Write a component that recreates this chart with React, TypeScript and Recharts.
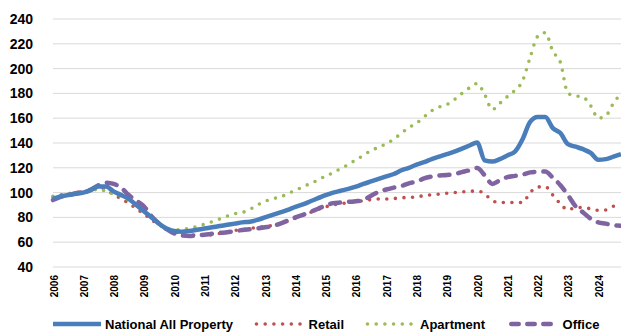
import React from 'react';
import { LineChart, Line, XAxis, YAxis, CartesianGrid, Legend } from 'recharts';

const years = [2006, 2007, 2008, 2009, 2010, 2011, 2012, 2013, 2014, 2015, 2016, 2017, 2018, 2019, 2020, 2021, 2022, 2023, 2024];
const quarters = ['Q1', 'Q2', 'Q3', 'Q4'];
const categories = years.flatMap((y) => quarters.map((q) => `${y}${q}`));

const yTicks = [40, 60, 80, 100, 120, 140, 160, 180, 200, 220, 240];

const national = [
  95, 97, 98, 99, 100, 102, 105, 105, 101, 98, 95, 90, 85, 80, 75, 71,
  69, 68.5, 69, 70, 71, 72, 73, 74, 75, 76, 76.5, 78, 80, 82, 84, 86,
  88.5, 90.5, 93, 95.5, 98, 100, 101.5, 103, 104.8, 107, 109, 111, 113, 115, 118, 120,
  122.5, 124.5, 127, 129, 131, 133, 135.5, 138, 140.5, 126, 125, 127, 130, 133,
  143, 157, 161, 161, 152, 148, 139, 137, 135, 132, 126.5, 127, 129, 131,
];

const retail = [
  96.5, 98, 99, 100, 100.5, 102.5, 104, 102, 98.5, 95, 91.5, 87, 83, 78, 74, 71,
  69, 66, 65.8, 65.8, 65.8, 66, 67, 68.3, 69.5, 70.2, 71, 72, 72.7, 73.5, 75, 77,
  79.3, 82, 84, 86.5, 88.5, 90, 91, 92, 92.5, 93.5, 94.3, 94.8, 94.8, 95.2, 95.8, 96.1,
  96.6, 97.5, 98.3, 98.8, 99.5, 100, 100.5, 101, 101.3, 99, 93.5, 92, 92, 92,
  92, 100, 104.5, 104.8, 98, 91, 86, 88, 87.8, 87, 85.7, 86, 89, 91.5,
];

const apartment = [
  97, 98, 99, 99.5, 100, 101, 103, 101, 99, 97, 94, 90, 85.5, 80.5, 75, 71,
  70, 70, 71.5, 72.5, 74.5, 76.5, 78.7, 81, 83, 84, 86.5, 90, 93, 95, 96.5, 99,
  102, 104.5, 107.5, 110, 113.5, 116, 119.5, 122.5, 126.5, 130, 134, 136.5, 139.5, 143, 148, 152.5,
  156, 161, 166, 169, 171, 175, 180, 184.5, 188, 179, 167, 172, 177.5, 182.5,
  190, 209, 226, 229, 214, 205, 180, 178, 177, 170, 160, 162, 172, 180,
];

const office = [
  94, 96.5, 98, 99.5, 100.5, 102.5, 106, 108, 107, 104, 98, 93.5, 89, 81, 75, 70.5,
  67, 65.5, 65, 65.5, 66, 66.8, 67.5, 68, 69, 69.8, 70.5, 71.2, 72, 73, 75, 77.5,
  80, 82, 84.5, 87, 89.5, 91.5, 92, 92.5, 93, 94, 97.5, 100.5, 102.5, 104, 105.3, 107.5,
  108.8, 111.5, 113, 113.8, 114.2, 115, 116.5, 118, 119.8, 114, 107, 110, 112.5, 113.5,
  114.5, 116.3, 116.8, 117, 112, 106, 98, 89, 84, 79, 76, 75, 73.5, 73.3,
];

const data = categories.map((c, i) => ({
  period: c,
  national: national[i],
  retail: retail[i],
  apartment: apartment[i],
  office: office[i],
}));

const BLUE = '#4a7ebb';
const RED = '#c0504d';
const GREEN = '#9bbb59';
const PURPLE = '#8064a2';
const FONT = '"Liberation Sans", Arial, sans-serif';

const XTick = (props: any) => {
  const { x, y, payload } = props;
  const label = String(payload.value).slice(0, 4);
  const tx = x + 1;
  return (
    <text
      x={tx}
      y={y}
      transform={`rotate(-90, ${tx}, ${y})`}
      textAnchor="end"
      dominantBaseline="central"
      fontFamily={FONT}
      fontWeight="bold"
      fontSize={10}
      fill="#000"
    >
      {label}
    </text>
  );
};

const legendItems = [
  { name: 'National All Property', color: BLUE, kind: 'solid', gapAfter: 20.5, textGap: 4 },
  { name: 'Retail', color: RED, kind: 'dot', gapAfter: 21, textGap: 7 },
  { name: 'Apartment', color: GREEN, kind: 'dot', gapAfter: 21.5, textGap: 7 },
  { name: 'Office', color: PURPLE, kind: 'dash', gapAfter: 0, textGap: 8 },
];

const LegendContent = () => (
  <div
    style={{
      display: 'flex',
      alignItems: 'center',
      height: 18,
      paddingLeft: 53,
      fontFamily: FONT,
      fontWeight: 'bold',
      fontSize: 13,
      color: '#000',
      whiteSpace: 'nowrap',
    }}
  >
    {legendItems.map((it) => (
      <div key={it.name} style={{ display: 'flex', alignItems: 'center', marginRight: it.gapAfter }}>
        <svg width={48} height={18} style={{ display: 'block' }}>
          {it.kind === 'solid' && (
            <line x1={0} y1={9} x2={48} y2={9} stroke={it.color} strokeWidth={4.5} />
          )}
          {it.kind === 'dot' && (
            <line x1={2.5} y1={9} x2={46.5} y2={9} stroke={it.color} strokeWidth={3.6} strokeDasharray="0 8.7" strokeLinecap="round" />
          )}
          {it.kind === 'dash' && (
            <line x1={4.25} y1={9} x2={46} y2={9} stroke={it.color} strokeWidth={4.5} strokeDasharray="7.5 8.5" strokeLinecap="round" />
          )}
        </svg>
        <span style={{ marginLeft: it.textGap }}>{it.name}</span>
      </div>
    ))}
  </div>
);

export default function App() {
  return (
    <div style={{ position: 'absolute', left: 0, top: 0, background: '#fff' }}>
      <LineChart
        width={621}
        height={333}
        data={data}
        margin={{ top: 19, right: 0, left: 0, bottom: 0 }}
      >
        <CartesianGrid horizontal vertical={false} stroke="#d9d9d9" strokeWidth={1} />
        <XAxis
          dataKey="period"
          interval={3}
          tick={<XTick />}
          tickLine={false}
          axisLine={false}
          tickSize={0}
          tickMargin={8}
          height={48}
        />
        <YAxis
          domain={[40, 240]}
          ticks={yTicks}
          interval={0}
          tickLine={false}
          axisLine={false}
          tickSize={6}
          tickMargin={14}
          width={53}
          tick={{ fontFamily: FONT, fontWeight: 'bold', fontSize: 14, fill: '#000' }}
        />
        <Legend verticalAlign="bottom" height={18} content={<LegendContent />} />
        <Line
          type="monotone"
          dataKey="retail"
          name="Retail"
          stroke={RED}
          strokeWidth={3.6}
          strokeDasharray="0 8.6"
          strokeLinecap="round"
          dot={false}
          isAnimationActive={false}
        />
        <Line
          type="monotone"
          dataKey="apartment"
          name="Apartment"
          stroke={GREEN}
          strokeWidth={3.6}
          strokeDasharray="0 8.6"
          strokeLinecap="round"
          dot={false}
          isAnimationActive={false}
        />
        <Line
          type="monotone"
          dataKey="office"
          name="Office"
          stroke={PURPLE}
          strokeWidth={4.5}
          strokeDasharray="10 9"
          strokeLinecap="round"
          dot={false}
          isAnimationActive={false}
        />
        <Line
          type="monotone"
          dataKey="national"
          name="National All Property"
          stroke={BLUE}
          strokeWidth={4.5}
          dot={false}
          isAnimationActive={false}
        />
      </LineChart>
    </div>
  );
}
